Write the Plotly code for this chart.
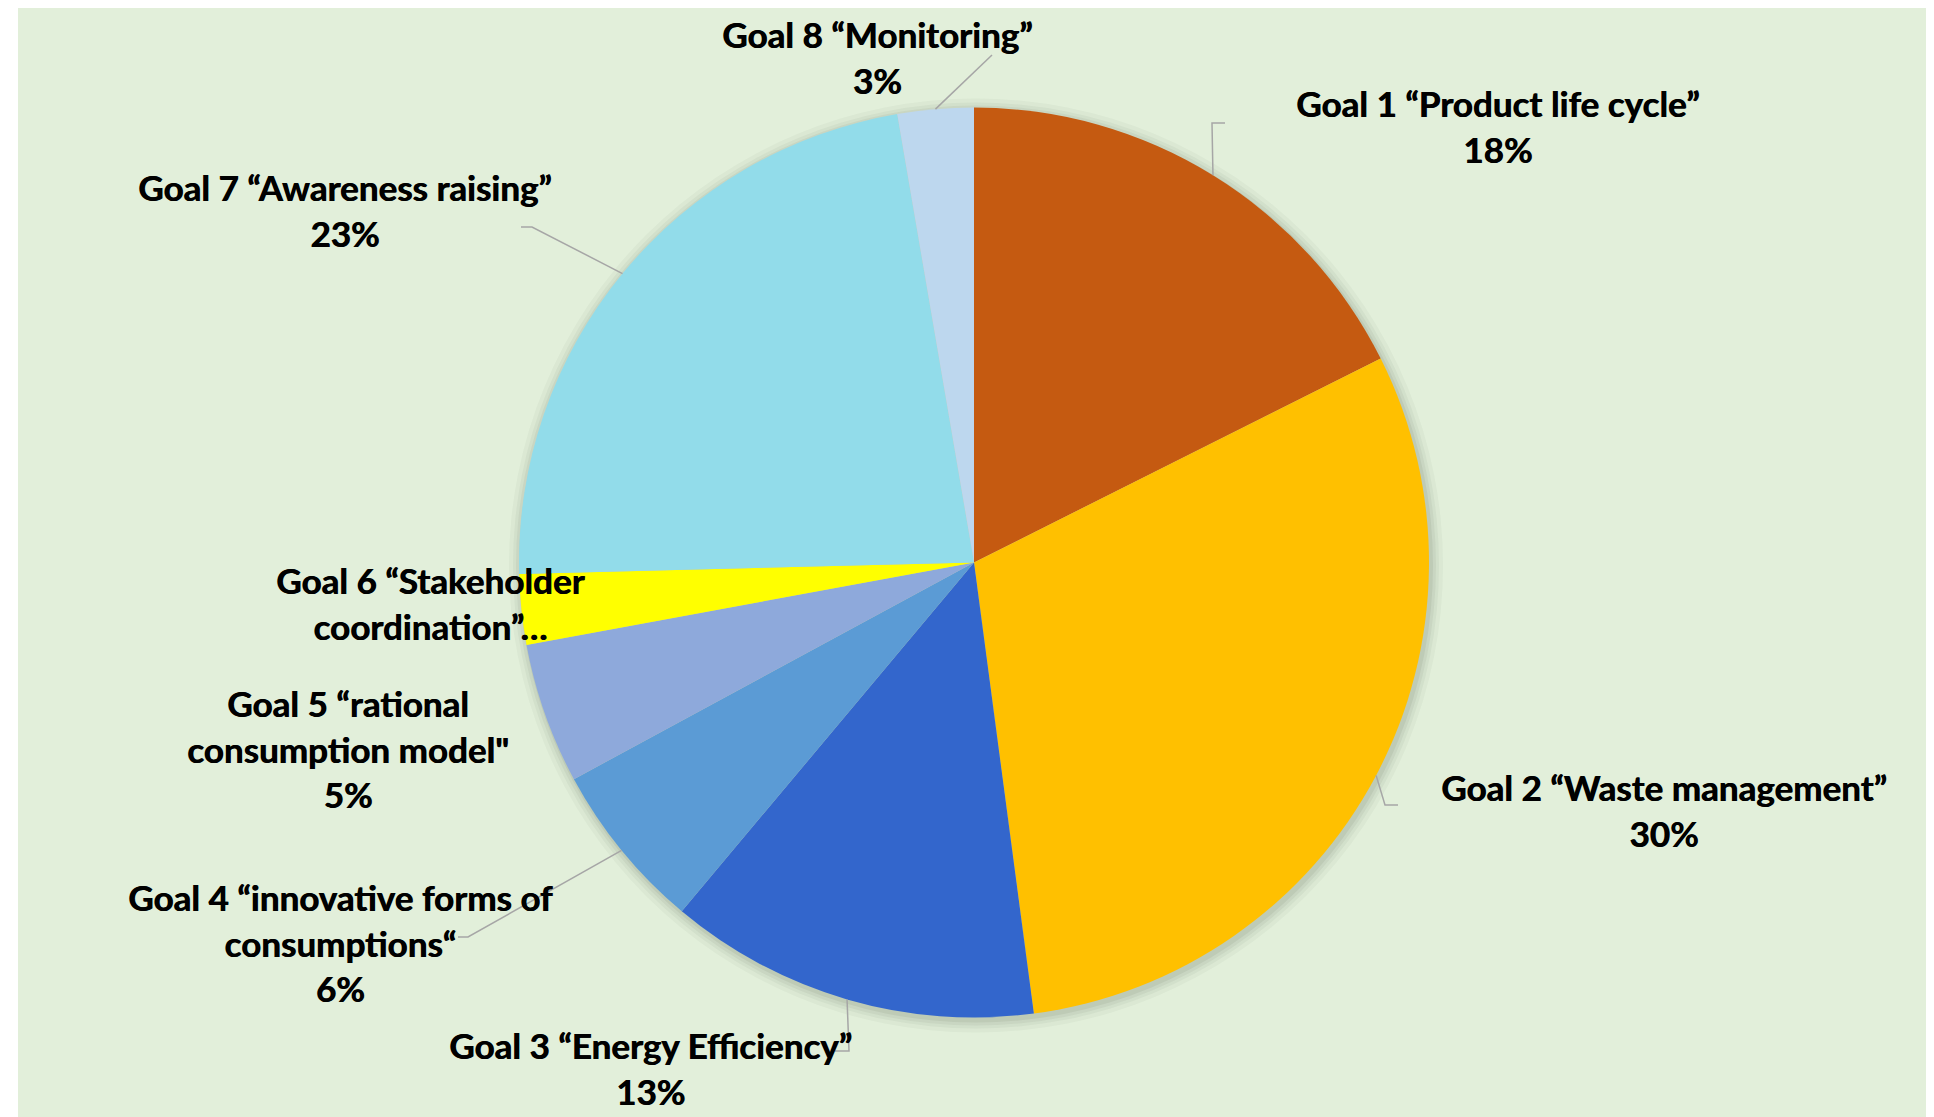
import numpy as np
import plotly.graph_objects as go

# data
goals = ["Goal 1", "Goal 2", "Goal 3", "Goal 4", "Goal 5", "Goal 6", "Goal 7", "Goal 8"]
label_lines = [
    "Goal 1 “Product life cycle”",
    "Goal 2 “Waste management”",
    "Goal 3 “Energy Efficiency”",
    "Goal 4 “innovative forms of<br>consumptions“",
    "Goal 5 “rational<br>consumption model\"",
    "Goal 6 “Stakeholder<br>coordination”…",
    "Goal 7 “Awareness raising”",
    "Goal 8 “Monitoring”",
]
shares = [17.6, 30.3, 13.2, 6.0, 5.0, 2.5, 22.7, 2.7]
show_pct = [True, True, True, True, True, False, True, True]
colors = ["#C55A11", "#FFC000", "#3366CC", "#5B9BD5", "#8EA9DB", "#FFFF00", "#92DCEA", "#BDD7EE"]

W, H = 1934, 1117
OFF = 8  # page body margin
cx, cy, R = 974, 562.5, 455

def px(x):
    return (x - OFF) / W

def py(y):
    return 1 - (y - OFF) / H

# label layout (screen pixels): text centre, leader elbow, leader end (None = no leader)
label_layout = [
    dict(c=(1497, 126), elbow=(1212, 123), end=(1225, 123)),
    dict(c=(1664, 810), elbow=(1385, 805), end=(1398, 805)),
    dict(c=(650, 1068), elbow=(849, 1051), end=(835, 1051)),
    dict(c=(340, 942), elbow=(468, 937), end=(458, 937)),
    dict(c=(348, 748), elbow=None, end=None),
    dict(c=(430, 603), elbow=None, end=None),
    dict(c=(345, 210), elbow=(532, 227), end=(521, 227)),
    dict(c=(877, 57), elbow=(992, 55), end=(992, 55)),
]

fig = go.Figure()

# soft shadow under the pie
for k, a in [(12, 0.04), (8, 0.05), (5, 0.06), (2, 0.08)]:
    r = R + k
    fig.add_trace(go.Pie(
        values=[1], labels=["shadow"], sort=False, textinfo="none",
        marker=dict(colors=["rgba(60,75,50,%s)" % a], line=dict(width=0)),
        domain=dict(x=[px(cx + 2 - r), px(cx + 2 + r)], y=[py(cy + 3 + r), py(cy + 3 - r)]),
        hoverinfo="skip", showlegend=False,
    ))

fig.add_trace(go.Pie(
    labels=goals, values=shares, sort=False, direction="clockwise", rotation=0,
    textinfo="none", marker=dict(colors=colors, line=dict(width=0)),
    domain=dict(x=[px(cx - R), px(cx + R)], y=[py(cy + R), py(cy - R)]),
    showlegend=False,
))

total = sum(shares)
cum = np.cumsum([0] + shares)
shapes = [dict(type="rect", xref="paper", yref="paper", x0=px(18), x1=px(1928), y0=py(1130), y1=py(8),
               fillcolor="#E2EFDA", line=dict(width=0), layer="below")]
annotations = []
for i, name in enumerate(label_lines):
    mid = (cum[i] + shares[i] / 2) / total * 2 * np.pi
    sx, sy = cx + R * np.sin(mid), cy - R * np.cos(mid)
    lay = label_layout[i]
    if lay["elbow"] is not None:
        ex, ey = lay["elbow"]
        tx, ty = lay["end"]
        shapes.append(dict(type="path", xref="paper", yref="paper",
                           path="M %f %f L %f %f L %f %f" % (px(sx), py(sy), px(ex), py(ey), px(tx), py(ty)),
                           line=dict(color="#A6A6A6", width=1.5), layer="above"))
    txt = name
    if show_pct[i]:
        txt += "<br>%d%%" % round(shares[i] / total * 100)
    annotations.append(dict(x=px(lay["c"][0]), y=py(lay["c"][1]), xref="paper", yref="paper",
                            text="<b>" + txt + "</b>", showarrow=False, xanchor="center", yanchor="middle",
                            align="center",
                            font=dict(family="Lato", size=35, color="#000000", shadow="0.7px 0px 0px #000000")))

fig.update_layout(
    width=W, height=H, margin=dict(l=0, r=0, t=0, b=0),
    paper_bgcolor="white", shapes=shapes, annotations=annotations,
)

fig.write_html("out.html")
